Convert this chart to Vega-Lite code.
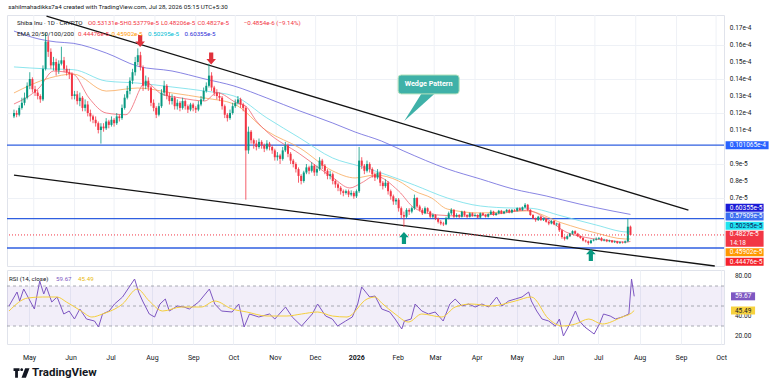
{
"$schema": "https://vega.github.io/schema/vega-lite/v6.json",
"background": "#ffffff",
"padding": {"left": 5, "top": 3, "right": 0, "bottom": 0},
"spacing": -5,
"resolve": {"scale": {"x": "independent", "y": "independent"}},
"config": {
  "font": "Roboto",
  "view": {"stroke": "#e0e3eb", "strokeWidth": 1},
  "axis": {"labelFont": "Roboto", "labelColor": "#131722", "labelFontSize": 6.5, "ticks": false, "domain": false, "gridColor": "#eef1f6", "gridWidth": 1, "title": null},
  "text": {"font": "Roboto"}
},
"datasets": {
"candles": [
{"t":"2025-04-16","o":11.8,"h":12.2,"l":11.7,"c":12.0},
{"t":"2025-04-18","o":12.0,"h":12.15,"l":11.75,"c":11.9},
{"t":"2025-04-20","o":11.9,"h":12.45,"l":11.8,"c":12.3},
{"t":"2025-04-22","o":12.3,"h":12.9,"l":12.2,"c":12.6},
{"t":"2025-04-24","o":12.6,"h":13.2,"l":12.45,"c":12.9},
{"t":"2025-04-26","o":12.9,"h":13.8,"l":12.8,"c":13.6},
{"t":"2025-04-28","o":13.6,"h":14.4,"l":13.4,"c":14.0},
{"t":"2025-04-30","o":14.0,"h":14.1,"l":13.2,"c":13.4},
{"t":"2025-05-02","o":13.4,"h":13.6,"l":13.0,"c":13.2},
{"t":"2025-05-04","o":13.2,"h":13.35,"l":12.8,"c":13.0},
{"t":"2025-05-06","o":13.0,"h":13.1,"l":12.6,"c":12.8},
{"t":"2025-05-08","o":12.8,"h":14.8,"l":12.7,"c":14.6},
{"t":"2025-05-10","o":14.6,"h":16.7,"l":14.5,"c":16.2},
{"t":"2025-05-12","o":16.2,"h":16.5,"l":15.3,"c":15.6},
{"t":"2025-05-14","o":15.6,"h":15.8,"l":14.6,"c":14.8},
{"t":"2025-05-16","o":14.8,"h":15.3,"l":14.5,"c":15.0},
{"t":"2025-05-18","o":15.0,"h":15.2,"l":14.2,"c":14.5},
{"t":"2025-05-20","o":14.5,"h":15.1,"l":14.3,"c":14.9},
{"t":"2025-05-22","o":14.9,"h":15.9,"l":14.8,"c":15.1},
{"t":"2025-05-24","o":15.1,"h":15.3,"l":14.4,"c":14.6},
{"t":"2025-05-26","o":14.6,"h":14.8,"l":14.2,"c":14.4},
{"t":"2025-05-28","o":14.4,"h":14.6,"l":14.0,"c":14.3},
{"t":"2025-05-30","o":14.3,"h":14.4,"l":12.8,"c":13.0},
{"t":"2025-06-01","o":13.0,"h":13.3,"l":12.8,"c":13.1},
{"t":"2025-06-03","o":13.1,"h":13.3,"l":12.5,"c":12.7},
{"t":"2025-06-05","o":12.7,"h":13.2,"l":12.4,"c":12.9},
{"t":"2025-06-07","o":12.9,"h":13.0,"l":12.1,"c":12.3},
{"t":"2025-06-09","o":12.3,"h":12.8,"l":12.1,"c":12.5},
{"t":"2025-06-11","o":12.5,"h":12.7,"l":11.8,"c":12.0},
{"t":"2025-06-13","o":12.0,"h":12.2,"l":11.5,"c":11.8},
{"t":"2025-06-15","o":11.8,"h":11.9,"l":11.4,"c":11.6},
{"t":"2025-06-17","o":11.6,"h":11.8,"l":11.2,"c":11.4},
{"t":"2025-06-19","o":11.4,"h":11.5,"l":10.8,"c":11.0},
{"t":"2025-06-21","o":11.0,"h":11.4,"l":10.2,"c":11.2},
{"t":"2025-06-23","o":11.2,"h":11.4,"l":10.9,"c":11.1},
{"t":"2025-06-25","o":11.1,"h":11.7,"l":11.0,"c":11.5},
{"t":"2025-06-27","o":11.5,"h":11.6,"l":11.1,"c":11.3},
{"t":"2025-06-29","o":11.3,"h":11.8,"l":11.2,"c":11.6},
{"t":"2025-07-01","o":11.6,"h":11.7,"l":11.2,"c":11.4},
{"t":"2025-07-03","o":11.4,"h":12.0,"l":11.3,"c":11.8},
{"t":"2025-07-05","o":11.8,"h":11.9,"l":11.5,"c":11.7},
{"t":"2025-07-07","o":11.7,"h":12.5,"l":11.6,"c":12.3},
{"t":"2025-07-09","o":12.3,"h":13.1,"l":12.2,"c":12.9},
{"t":"2025-07-11","o":12.9,"h":13.6,"l":12.8,"c":13.3},
{"t":"2025-07-13","o":13.3,"h":14.1,"l":13.1,"c":13.9},
{"t":"2025-07-15","o":13.9,"h":14.6,"l":13.7,"c":14.4},
{"t":"2025-07-17","o":14.4,"h":15.3,"l":14.2,"c":15.0},
{"t":"2025-07-19","o":15.0,"h":15.8,"l":14.8,"c":15.4},
{"t":"2025-07-21","o":15.4,"h":15.6,"l":14.5,"c":14.7},
{"t":"2025-07-23","o":14.7,"h":14.8,"l":13.3,"c":13.6},
{"t":"2025-07-25","o":13.6,"h":14.2,"l":13.4,"c":13.9},
{"t":"2025-07-27","o":13.9,"h":14.1,"l":13.3,"c":13.5},
{"t":"2025-07-29","o":13.5,"h":13.6,"l":12.4,"c":12.6},
{"t":"2025-07-31","o":12.6,"h":12.8,"l":12.1,"c":12.3},
{"t":"2025-08-02","o":12.3,"h":12.4,"l":11.7,"c":11.9},
{"t":"2025-08-04","o":11.9,"h":12.6,"l":11.8,"c":12.4},
{"t":"2025-08-06","o":12.4,"h":13.4,"l":12.3,"c":13.2},
{"t":"2025-08-08","o":13.2,"h":13.9,"l":13.0,"c":13.6},
{"t":"2025-08-10","o":13.6,"h":13.7,"l":12.8,"c":13.0},
{"t":"2025-08-12","o":13.0,"h":13.2,"l":12.5,"c":12.7},
{"t":"2025-08-14","o":12.7,"h":13.1,"l":12.5,"c":12.9},
{"t":"2025-08-16","o":12.9,"h":13.0,"l":12.2,"c":12.4},
{"t":"2025-08-18","o":12.4,"h":12.8,"l":12.2,"c":12.6},
{"t":"2025-08-20","o":12.6,"h":12.7,"l":12.1,"c":12.3},
{"t":"2025-08-22","o":12.3,"h":12.9,"l":12.2,"c":12.7},
{"t":"2025-08-24","o":12.7,"h":12.8,"l":12.2,"c":12.4},
{"t":"2025-08-26","o":12.4,"h":12.5,"l":12.0,"c":12.2},
{"t":"2025-08-28","o":12.2,"h":12.6,"l":12.1,"c":12.5},
{"t":"2025-08-30","o":12.5,"h":12.6,"l":12.1,"c":12.3},
{"t":"2025-09-01","o":12.3,"h":12.4,"l":12.0,"c":12.2},
{"t":"2025-09-03","o":12.2,"h":12.7,"l":12.1,"c":12.5},
{"t":"2025-09-05","o":12.5,"h":13.0,"l":12.4,"c":12.8},
{"t":"2025-09-07","o":12.8,"h":13.5,"l":12.7,"c":13.3},
{"t":"2025-09-09","o":13.3,"h":13.8,"l":13.2,"c":13.6},
{"t":"2025-09-11","o":13.6,"h":14.9,"l":13.5,"c":14.2},
{"t":"2025-09-13","o":14.2,"h":14.4,"l":13.3,"c":13.5},
{"t":"2025-09-15","o":13.5,"h":13.6,"l":13.0,"c":13.2},
{"t":"2025-09-17","o":13.2,"h":13.4,"l":12.8,"c":13.0},
{"t":"2025-09-19","o":13.0,"h":13.2,"l":12.7,"c":12.9},
{"t":"2025-09-21","o":12.9,"h":13.0,"l":12.2,"c":12.4},
{"t":"2025-09-23","o":12.4,"h":12.5,"l":11.7,"c":11.9},
{"t":"2025-09-25","o":11.9,"h":12.0,"l":11.5,"c":11.7},
{"t":"2025-09-27","o":11.7,"h":12.2,"l":11.6,"c":12.0},
{"t":"2025-09-29","o":12.0,"h":12.6,"l":11.9,"c":12.4},
{"t":"2025-10-01","o":12.4,"h":12.8,"l":12.3,"c":12.6},
{"t":"2025-10-03","o":12.6,"h":13.0,"l":12.5,"c":12.8},
{"t":"2025-10-05","o":12.8,"h":12.9,"l":12.3,"c":12.5},
{"t":"2025-10-07","o":12.5,"h":12.6,"l":12.1,"c":12.3},
{"t":"2025-10-09","o":12.3,"h":12.4,"l":6.9,"c":9.8},
{"t":"2025-10-11","o":9.8,"h":11.2,"l":9.6,"c":10.9},
{"t":"2025-10-13","o":10.9,"h":11.0,"l":10.2,"c":10.4},
{"t":"2025-10-15","o":10.4,"h":10.5,"l":9.9,"c":10.2},
{"t":"2025-10-17","o":10.2,"h":10.4,"l":9.8,"c":10.0},
{"t":"2025-10-19","o":10.0,"h":10.5,"l":9.9,"c":10.3},
{"t":"2025-10-21","o":10.3,"h":10.4,"l":9.9,"c":10.1},
{"t":"2025-10-23","o":10.1,"h":10.2,"l":9.7,"c":9.9},
{"t":"2025-10-25","o":9.9,"h":10.4,"l":9.8,"c":10.2},
{"t":"2025-10-27","o":10.2,"h":10.3,"l":9.8,"c":10.0},
{"t":"2025-10-29","o":10.0,"h":10.1,"l":9.6,"c":9.8},
{"t":"2025-10-31","o":9.8,"h":9.9,"l":9.2,"c":9.4},
{"t":"2025-11-02","o":9.4,"h":9.7,"l":9.2,"c":9.5},
{"t":"2025-11-04","o":9.5,"h":9.6,"l":9.0,"c":9.3},
{"t":"2025-11-06","o":9.3,"h":10.0,"l":9.2,"c":9.8},
{"t":"2025-11-08","o":9.8,"h":10.3,"l":9.7,"c":10.1},
{"t":"2025-11-10","o":10.1,"h":10.2,"l":9.4,"c":9.6},
{"t":"2025-11-12","o":9.6,"h":9.7,"l":9.0,"c":9.2},
{"t":"2025-11-14","o":9.2,"h":9.3,"l":8.8,"c":9.0},
{"t":"2025-11-16","o":9.0,"h":9.1,"l":8.5,"c":8.7},
{"t":"2025-11-18","o":8.7,"h":8.8,"l":7.9,"c":8.3},
{"t":"2025-11-20","o":8.3,"h":8.4,"l":7.8,"c":8.0},
{"t":"2025-11-22","o":8.0,"h":8.6,"l":7.9,"c":8.5},
{"t":"2025-11-24","o":8.5,"h":9.0,"l":8.4,"c":8.8},
{"t":"2025-11-26","o":8.8,"h":8.9,"l":8.4,"c":8.6},
{"t":"2025-11-28","o":8.6,"h":9.1,"l":8.5,"c":8.9},
{"t":"2025-11-30","o":8.9,"h":9.0,"l":8.3,"c":8.5},
{"t":"2025-12-02","o":8.5,"h":8.9,"l":8.3,"c":8.7},
{"t":"2025-12-04","o":8.7,"h":9.4,"l":8.6,"c":9.2},
{"t":"2025-12-06","o":9.2,"h":9.3,"l":8.7,"c":8.9},
{"t":"2025-12-08","o":8.9,"h":9.0,"l":8.4,"c":8.6},
{"t":"2025-12-10","o":8.6,"h":8.7,"l":8.1,"c":8.3},
{"t":"2025-12-12","o":8.3,"h":8.6,"l":8.1,"c":8.4},
{"t":"2025-12-14","o":8.4,"h":8.5,"l":7.8,"c":8.0},
{"t":"2025-12-16","o":8.0,"h":8.1,"l":7.6,"c":7.8},
{"t":"2025-12-18","o":7.8,"h":7.9,"l":7.4,"c":7.6},
{"t":"2025-12-20","o":7.6,"h":7.7,"l":7.2,"c":7.4},
{"t":"2025-12-22","o":7.4,"h":7.5,"l":7.1,"c":7.3},
{"t":"2025-12-24","o":7.3,"h":7.5,"l":7.2,"c":7.4},
{"t":"2025-12-26","o":7.4,"h":7.5,"l":7.05,"c":7.2},
{"t":"2025-12-28","o":7.2,"h":7.45,"l":7.1,"c":7.3},
{"t":"2025-12-30","o":7.3,"h":7.4,"l":6.95,"c":7.1},
{"t":"2026-01-01","o":7.1,"h":7.5,"l":7.0,"c":7.4},
{"t":"2026-01-03","o":7.4,"h":10.0,"l":7.3,"c":9.2},
{"t":"2026-01-05","o":9.2,"h":9.4,"l":8.7,"c":8.9},
{"t":"2026-01-07","o":8.9,"h":9.0,"l":8.4,"c":8.6},
{"t":"2026-01-09","o":8.6,"h":9.2,"l":8.5,"c":9.0},
{"t":"2026-01-11","o":9.0,"h":9.1,"l":8.5,"c":8.7},
{"t":"2026-01-13","o":8.7,"h":8.8,"l":8.2,"c":8.4},
{"t":"2026-01-15","o":8.4,"h":8.5,"l":8.0,"c":8.2},
{"t":"2026-01-17","o":8.2,"h":8.7,"l":8.1,"c":8.5},
{"t":"2026-01-19","o":8.5,"h":8.6,"l":7.7,"c":7.9},
{"t":"2026-01-21","o":7.9,"h":8.0,"l":7.5,"c":7.7},
{"t":"2026-01-23","o":7.7,"h":8.1,"l":7.6,"c":7.9},
{"t":"2026-01-25","o":7.9,"h":8.0,"l":7.2,"c":7.4},
{"t":"2026-01-27","o":7.4,"h":7.5,"l":6.9,"c":7.1},
{"t":"2026-01-29","o":7.1,"h":7.2,"l":6.6,"c":6.8},
{"t":"2026-01-31","o":6.8,"h":7.0,"l":6.6,"c":6.9},
{"t":"2026-02-02","o":6.9,"h":7.0,"l":6.2,"c":6.4},
{"t":"2026-02-04","o":6.4,"h":6.5,"l":5.8,"c":6.0},
{"t":"2026-02-06","o":6.0,"h":6.2,"l":5.3,"c":5.9},
{"t":"2026-02-08","o":5.9,"h":6.4,"l":5.8,"c":6.3},
{"t":"2026-02-10","o":6.3,"h":6.4,"l":6.0,"c":6.2},
{"t":"2026-02-12","o":6.2,"h":6.5,"l":6.1,"c":6.4},
{"t":"2026-02-14","o":6.4,"h":7.2,"l":6.3,"c":7.0},
{"t":"2026-02-16","o":7.0,"h":7.05,"l":6.4,"c":6.5},
{"t":"2026-02-18","o":6.5,"h":6.6,"l":6.2,"c":6.3},
{"t":"2026-02-20","o":6.3,"h":6.4,"l":6.0,"c":6.1},
{"t":"2026-02-22","o":6.1,"h":6.5,"l":6.05,"c":6.4},
{"t":"2026-02-24","o":6.4,"h":6.45,"l":6.1,"c":6.2},
{"t":"2026-02-26","o":6.2,"h":6.25,"l":5.8,"c":5.9},
{"t":"2026-02-28","o":5.9,"h":6.1,"l":5.8,"c":6.0},
{"t":"2026-03-02","o":6.0,"h":6.05,"l":5.7,"c":5.8},
{"t":"2026-03-04","o":5.8,"h":5.85,"l":5.5,"c":5.6},
{"t":"2026-03-06","o":5.6,"h":5.7,"l":5.4,"c":5.5},
{"t":"2026-03-08","o":5.5,"h":5.6,"l":5.35,"c":5.45},
{"t":"2026-03-10","o":5.45,"h":5.9,"l":5.4,"c":5.8},
{"t":"2026-03-12","o":5.8,"h":6.2,"l":5.75,"c":6.1},
{"t":"2026-03-14","o":6.1,"h":6.4,"l":6.0,"c":6.3},
{"t":"2026-03-16","o":6.3,"h":6.35,"l":5.8,"c":5.9},
{"t":"2026-03-18","o":5.9,"h":6.1,"l":5.85,"c":6.0},
{"t":"2026-03-20","o":6.0,"h":6.05,"l":5.8,"c":5.9},
{"t":"2026-03-22","o":5.9,"h":6.25,"l":5.85,"c":6.2},
{"t":"2026-03-24","o":6.2,"h":6.25,"l":5.9,"c":6.0},
{"t":"2026-03-26","o":6.0,"h":6.05,"l":5.8,"c":5.9},
{"t":"2026-03-28","o":5.9,"h":6.15,"l":5.85,"c":6.1},
{"t":"2026-03-30","o":6.1,"h":6.15,"l":5.9,"c":5.95},
{"t":"2026-04-01","o":5.95,"h":6.1,"l":5.9,"c":6.0},
{"t":"2026-04-03","o":6.0,"h":6.05,"l":5.8,"c":5.85},
{"t":"2026-04-05","o":5.85,"h":6.15,"l":5.8,"c":6.1},
{"t":"2026-04-07","o":6.1,"h":6.15,"l":5.95,"c":6.0},
{"t":"2026-04-09","o":6.0,"h":6.05,"l":5.85,"c":5.9},
{"t":"2026-04-11","o":5.9,"h":6.1,"l":5.85,"c":6.05},
{"t":"2026-04-13","o":6.05,"h":6.3,"l":6.0,"c":6.2},
{"t":"2026-04-15","o":6.2,"h":6.25,"l":5.95,"c":6.0},
{"t":"2026-04-17","o":6.0,"h":6.15,"l":5.95,"c":6.1},
{"t":"2026-04-19","o":6.1,"h":6.3,"l":6.05,"c":6.25},
{"t":"2026-04-21","o":6.25,"h":6.3,"l":6.05,"c":6.1},
{"t":"2026-04-23","o":6.1,"h":6.25,"l":6.05,"c":6.2},
{"t":"2026-04-25","o":6.2,"h":6.35,"l":6.15,"c":6.3},
{"t":"2026-04-27","o":6.3,"h":6.35,"l":6.1,"c":6.15},
{"t":"2026-04-29","o":6.15,"h":6.35,"l":6.1,"c":6.3},
{"t":"2026-05-01","o":6.3,"h":6.35,"l":6.2,"c":6.25},
{"t":"2026-05-03","o":6.25,"h":6.45,"l":6.2,"c":6.4},
{"t":"2026-05-05","o":6.4,"h":6.45,"l":6.25,"c":6.3},
{"t":"2026-05-07","o":6.3,"h":6.5,"l":6.25,"c":6.45},
{"t":"2026-05-09","o":6.45,"h":6.7,"l":6.4,"c":6.6},
{"t":"2026-05-11","o":6.6,"h":6.65,"l":6.25,"c":6.3},
{"t":"2026-05-13","o":6.3,"h":6.35,"l":5.95,"c":6.0},
{"t":"2026-05-15","o":6.0,"h":6.05,"l":5.75,"c":5.8},
{"t":"2026-05-17","o":5.8,"h":5.85,"l":5.6,"c":5.7},
{"t":"2026-05-19","o":5.7,"h":5.95,"l":5.65,"c":5.9},
{"t":"2026-05-21","o":5.9,"h":5.95,"l":5.65,"c":5.7},
{"t":"2026-05-23","o":5.7,"h":5.85,"l":5.65,"c":5.8},
{"t":"2026-05-25","o":5.8,"h":5.85,"l":5.55,"c":5.6},
{"t":"2026-05-27","o":5.6,"h":5.65,"l":5.4,"c":5.5},
{"t":"2026-05-29","o":5.5,"h":5.7,"l":5.45,"c":5.65},
{"t":"2026-05-31","o":5.65,"h":5.7,"l":5.4,"c":5.45},
{"t":"2026-06-02","o":5.45,"h":5.55,"l":5.35,"c":5.5},
{"t":"2026-06-04","o":5.5,"h":5.55,"l":5.0,"c":5.1},
{"t":"2026-06-06","o":5.1,"h":5.15,"l":4.6,"c":4.7},
{"t":"2026-06-08","o":4.7,"h":4.75,"l":4.5,"c":4.6},
{"t":"2026-06-10","o":4.6,"h":4.8,"l":4.55,"c":4.75},
{"t":"2026-06-12","o":4.75,"h":4.95,"l":4.7,"c":4.9},
{"t":"2026-06-14","o":4.9,"h":5.1,"l":4.85,"c":5.05},
{"t":"2026-06-16","o":5.05,"h":5.1,"l":4.85,"c":4.9},
{"t":"2026-06-18","o":4.9,"h":4.95,"l":4.7,"c":4.75},
{"t":"2026-06-20","o":4.75,"h":4.8,"l":4.6,"c":4.65},
{"t":"2026-06-22","o":4.65,"h":4.7,"l":4.45,"c":4.5},
{"t":"2026-06-24","o":4.5,"h":4.55,"l":4.38,"c":4.45},
{"t":"2026-06-26","o":4.45,"h":4.5,"l":4.25,"c":4.35},
{"t":"2026-06-28","o":4.35,"h":4.55,"l":4.3,"c":4.5},
{"t":"2026-06-30","o":4.5,"h":4.6,"l":4.45,"c":4.55},
{"t":"2026-07-02","o":4.55,"h":4.68,"l":4.5,"c":4.6},
{"t":"2026-07-04","o":4.6,"h":4.7,"l":4.55,"c":4.65},
{"t":"2026-07-06","o":4.65,"h":4.7,"l":4.45,"c":4.5},
{"t":"2026-07-08","o":4.5,"h":4.6,"l":4.45,"c":4.55},
{"t":"2026-07-10","o":4.55,"h":4.58,"l":4.4,"c":4.45},
{"t":"2026-07-12","o":4.45,"h":4.55,"l":4.4,"c":4.5},
{"t":"2026-07-14","o":4.5,"h":4.53,"l":4.35,"c":4.4},
{"t":"2026-07-16","o":4.4,"h":4.5,"l":4.35,"c":4.45},
{"t":"2026-07-18","o":4.45,"h":4.48,"l":4.3,"c":4.35},
{"t":"2026-07-20","o":4.35,"h":4.45,"l":4.3,"c":4.4},
{"t":"2026-07-22","o":4.4,"h":4.45,"l":4.32,"c":4.38},
{"t":"2026-07-24","o":4.38,"h":4.5,"l":4.33,"c":4.45},
{"t":"2026-07-26","o":4.45,"h":5.79,"l":4.4,"c":5.3124},
{"t":"2026-07-28","o":5.3131,"h":5.3779,"l":4.8206,"c":4.827}
],
"ema": [
{"t":"2025-04-16","v":16.82,"s":"EMA200"},{"t":"2025-05-05","v":16.35,"s":"EMA200"},{"t":"2025-05-18","v":16.18,"s":"EMA200"},{"t":"2025-05-31","v":16.1,"s":"EMA200"},{"t":"2025-06-25","v":15.53,"s":"EMA200"},{"t":"2025-07-19","v":14.75,"s":"EMA200"},{"t":"2025-08-14","v":14.47,"s":"EMA200"},{"t":"2025-09-08","v":14.0,"s":"EMA200"},{"t":"2025-09-30","v":13.59,"s":"EMA200"},{"t":"2025-10-25","v":12.88,"s":"EMA200"},{"t":"2025-11-19","v":12.12,"s":"EMA200"},{"t":"2025-12-14","v":11.41,"s":"EMA200"},{"t":"2025-12-31","v":10.88,"s":"EMA200"},{"t":"2026-01-20","v":10.35,"s":"EMA200"},{"t":"2026-02-06","v":9.76,"s":"EMA200"},{"t":"2026-03-11","v":8.71,"s":"EMA200"},{"t":"2026-04-05","v":8.12,"s":"EMA200"},{"t":"2026-04-30","v":7.53,"s":"EMA200"},{"t":"2026-05-25","v":7.12,"s":"EMA200"},{"t":"2026-06-19","v":6.65,"s":"EMA200"},{"t":"2026-07-14","v":6.24,"s":"EMA200"},{"t":"2026-07-28","v":6.0355,"s":"EMA200"},
{"t":"2025-04-16","v":14.71,"s":"EMA100"},{"t":"2025-05-10","v":14.6,"s":"EMA100"},{"t":"2025-05-31","v":14.55,"s":"EMA100"},{"t":"2025-06-25","v":13.88,"s":"EMA100"},{"t":"2025-07-19","v":13.76,"s":"EMA100"},{"t":"2025-08-14","v":13.53,"s":"EMA100"},{"t":"2025-09-08","v":13.29,"s":"EMA100"},{"t":"2025-09-30","v":13.0,"s":"EMA100"},{"t":"2025-10-25","v":11.71,"s":"EMA100"},{"t":"2025-11-19","v":10.53,"s":"EMA100"},{"t":"2025-12-14","v":9.35,"s":"EMA100"},{"t":"2026-01-03","v":8.88,"s":"EMA100"},{"t":"2026-01-20","v":8.47,"s":"EMA100"},{"t":"2026-02-14","v":7.76,"s":"EMA100"},{"t":"2026-03-11","v":7.0,"s":"EMA100"},{"t":"2026-04-05","v":6.53,"s":"EMA100"},{"t":"2026-04-30","v":6.41,"s":"EMA100"},{"t":"2026-05-12","v":6.4,"s":"EMA100"},{"t":"2026-06-06","v":5.94,"s":"EMA100"},{"t":"2026-07-02","v":5.41,"s":"EMA100"},{"t":"2026-07-26","v":5.0,"s":"EMA100"},{"t":"2026-07-28","v":5.0295,"s":"EMA100"},
{"t":"2025-04-16","v":13.18,"s":"EMA50"},{"t":"2025-05-13","v":14.06,"s":"EMA50"},{"t":"2025-05-31","v":14.29,"s":"EMA50"},{"t":"2025-06-25","v":13.29,"s":"EMA50"},{"t":"2025-07-19","v":13.47,"s":"EMA50"},{"t":"2025-08-14","v":13.18,"s":"EMA50"},{"t":"2025-09-08","v":12.88,"s":"EMA50"},{"t":"2025-09-30","v":12.53,"s":"EMA50"},{"t":"2025-10-25","v":10.94,"s":"EMA50"},{"t":"2025-11-19","v":9.94,"s":"EMA50"},{"t":"2025-12-14","v":8.59,"s":"EMA50"},{"t":"2025-12-31","v":8.18,"s":"EMA50"},{"t":"2026-01-15","v":8.35,"s":"EMA50"},{"t":"2026-02-02","v":8.0,"s":"EMA50"},{"t":"2026-02-14","v":7.41,"s":"EMA50"},{"t":"2026-02-27","v":7.0,"s":"EMA50"},{"t":"2026-03-11","v":6.35,"s":"EMA50"},{"t":"2026-04-05","v":6.12,"s":"EMA50"},{"t":"2026-05-10","v":6.24,"s":"EMA50"},{"t":"2026-06-06","v":5.53,"s":"EMA50"},{"t":"2026-07-02","v":4.94,"s":"EMA50"},{"t":"2026-07-24","v":4.59,"s":"EMA50"},{"t":"2026-07-28","v":4.59,"s":"EMA50"},
{"t":"2025-04-16","v":12.53,"s":"EMA20"},{"t":"2025-05-05","v":13.47,"s":"EMA20"},{"t":"2025-05-16","v":14.47,"s":"EMA20"},{"t":"2025-05-31","v":14.29,"s":"EMA20"},{"t":"2025-06-12","v":12.88,"s":"EMA20"},{"t":"2025-06-25","v":12.0,"s":"EMA20"},{"t":"2025-07-10","v":11.9,"s":"EMA20"},{"t":"2025-07-25","v":13.8,"s":"EMA20"},{"t":"2025-08-06","v":13.12,"s":"EMA20"},{"t":"2025-08-21","v":12.88,"s":"EMA20"},{"t":"2025-09-08","v":12.71,"s":"EMA20"},{"t":"2025-09-17","v":13.2,"s":"EMA20"},{"t":"2025-10-02","v":12.6,"s":"EMA20"},{"t":"2025-10-09","v":12.4,"s":"EMA20"},{"t":"2025-10-17","v":11.53,"s":"EMA20"},{"t":"2025-10-25","v":10.9,"s":"EMA20"},{"t":"2025-11-19","v":9.59,"s":"EMA20"},{"t":"2025-12-14","v":8.2,"s":"EMA20"},{"t":"2025-12-27","v":7.59,"s":"EMA20"},{"t":"2026-01-05","v":7.9,"s":"EMA20"},{"t":"2026-01-15","v":8.3,"s":"EMA20"},{"t":"2026-02-02","v":7.41,"s":"EMA20"},{"t":"2026-02-14","v":6.41,"s":"EMA20"},{"t":"2026-03-04","v":6.0,"s":"EMA20"},{"t":"2026-03-23","v":5.94,"s":"EMA20"},{"t":"2026-04-18","v":6.06,"s":"EMA20"},{"t":"2026-05-10","v":6.28,"s":"EMA20"},{"t":"2026-05-25","v":5.8,"s":"EMA20"},{"t":"2026-06-09","v":5.0,"s":"EMA20"},{"t":"2026-06-24","v":4.68,"s":"EMA20"},{"t":"2026-07-14","v":4.48,"s":"EMA20"},{"t":"2026-07-24","v":4.4,"s":"EMA20"},{"t":"2026-07-28","v":4.4476,"s":"EMA20"}
],
"rsi": [
{"t":"2025-04-16","r":50},{"t":"2025-04-22","r":64},{"t":"2025-04-24","r":55},{"t":"2025-04-27","r":67},{"t":"2025-05-01","r":57},{"t":"2025-05-05","r":47},{"t":"2025-05-09","r":75},{"t":"2025-05-12","r":62},{"t":"2025-05-14","r":69},{"t":"2025-05-18","r":54},{"t":"2025-05-22","r":59},{"t":"2025-05-27","r":42},{"t":"2025-05-31","r":45},{"t":"2025-06-04","r":37},{"t":"2025-06-08","r":47},{"t":"2025-06-13","r":37},{"t":"2025-06-19","r":35},{"t":"2025-06-22","r":29},{"t":"2025-06-25","r":42},{"t":"2025-06-30","r":45},{"t":"2025-07-04","r":52},{"t":"2025-07-10","r":59},{"t":"2025-07-15","r":69},{"t":"2025-07-19","r":77},{"t":"2025-07-22","r":64},{"t":"2025-07-25","r":55},{"t":"2025-07-30","r":42},{"t":"2025-08-03","r":39},{"t":"2025-08-07","r":52},{"t":"2025-08-11","r":57},{"t":"2025-08-14","r":45},{"t":"2025-08-20","r":50},{"t":"2025-08-25","r":49},{"t":"2025-08-29","r":47},{"t":"2025-09-05","r":54},{"t":"2025-09-13","r":67},{"t":"2025-09-17","r":52},{"t":"2025-09-22","r":45},{"t":"2025-09-30","r":44},{"t":"2025-10-05","r":52},{"t":"2025-10-09","r":29},{"t":"2025-10-13","r":42},{"t":"2025-10-20","r":39},{"t":"2025-10-28","r":42},{"t":"2025-11-01","r":37},{"t":"2025-11-09","r":49},{"t":"2025-11-14","r":39},{"t":"2025-11-21","r":30},{"t":"2025-11-29","r":42},{"t":"2025-12-03","r":52},{"t":"2025-12-09","r":40},{"t":"2025-12-14","r":37},{"t":"2025-12-18","r":30},{"t":"2025-12-24","r":35},{"t":"2025-12-29","r":39},{"t":"2026-01-02","r":52},{"t":"2026-01-05","r":69},{"t":"2026-01-11","r":59},{"t":"2026-01-15","r":60},{"t":"2026-01-20","r":47},{"t":"2026-01-26","r":44},{"t":"2026-01-30","r":37},{"t":"2026-02-04","r":27},{"t":"2026-02-06","r":35},{"t":"2026-02-11","r":37},{"t":"2026-02-14","r":52},{"t":"2026-02-19","r":45},{"t":"2026-02-24","r":42},{"t":"2026-03-01","r":44},{"t":"2026-03-07","r":35},{"t":"2026-03-12","r":52},{"t":"2026-03-16","r":57},{"t":"2026-03-21","r":50},{"t":"2026-03-26","r":52},{"t":"2026-03-31","r":49},{"t":"2026-04-05","r":52},{"t":"2026-04-10","r":49},{"t":"2026-04-16","r":59},{"t":"2026-04-20","r":50},{"t":"2026-04-25","r":55},{"t":"2026-04-30","r":57},{"t":"2026-05-05","r":59},{"t":"2026-05-10","r":64},{"t":"2026-05-12","r":55},{"t":"2026-05-16","r":45},{"t":"2026-05-20","r":37},{"t":"2026-05-25","r":35},{"t":"2026-05-30","r":30},{"t":"2026-06-02","r":37},{"t":"2026-06-05","r":20},{"t":"2026-06-09","r":30},{"t":"2026-06-14","r":45},{"t":"2026-06-17","r":35},{"t":"2026-06-21","r":29},{"t":"2026-06-28","r":22},{"t":"2026-07-02","r":32},{"t":"2026-07-05","r":42},{"t":"2026-07-10","r":40},{"t":"2026-07-14","r":37},{"t":"2026-07-19","r":39},{"t":"2026-07-24","r":42},{"t":"2026-07-26","r":77},{"t":"2026-07-28","r":59.67}
],
"rsima": [
{"t":"2025-04-16","r":45},{"t":"2025-04-30","r":58},{"t":"2025-05-11","r":59},{"t":"2025-05-22","r":59},{"t":"2025-05-29","r":54},{"t":"2025-06-09","r":45},{"t":"2025-06-17","r":39},{"t":"2025-06-25","r":42},{"t":"2025-07-10","r":52},{"t":"2025-07-21","r":67},{"t":"2025-07-30","r":55},{"t":"2025-08-09","r":45},{"t":"2025-08-23","r":49},{"t":"2025-09-07","r":49},{"t":"2025-09-17","r":55},{"t":"2025-09-30","r":47},{"t":"2025-10-11","r":44},{"t":"2025-10-26","r":40},{"t":"2025-11-10","r":40},{"t":"2025-11-21","r":42},{"t":"2025-12-03","r":44},{"t":"2025-12-14","r":40},{"t":"2025-12-25","r":39},{"t":"2026-01-09","r":57},{"t":"2026-01-15","r":59},{"t":"2026-01-20","r":53},{"t":"2026-01-30","r":42},{"t":"2026-02-09","r":34},{"t":"2026-02-19","r":42},{"t":"2026-03-06","r":39},{"t":"2026-03-16","r":49},{"t":"2026-03-28","r":52},{"t":"2026-04-12","r":50},{"t":"2026-04-30","r":55},{"t":"2026-05-12","r":59},{"t":"2026-05-25","r":37},{"t":"2026-06-04","r":30},{"t":"2026-06-14","r":32},{"t":"2026-06-24","r":37},{"t":"2026-07-04","r":32},{"t":"2026-07-19","r":39},{"t":"2026-07-26","r":43},{"t":"2026-07-28","r":45.49}
],
"months": [
{"m":"2025-05-01"},{"m":"2025-06-01"},{"m":"2025-07-01"},{"m":"2025-08-01"},{"m":"2025-09-01"},{"m":"2025-10-01"},{"m":"2025-11-01"},{"m":"2025-12-01"},{"m":"2026-01-01"},{"m":"2026-02-01"},{"m":"2026-03-01"},{"m":"2026-04-01"},{"m":"2026-05-01"},{"m":"2026-06-01"},{"m":"2026-07-01"},{"m":"2026-08-01"},{"m":"2026-09-01"},{"m":"2026-10-01"}
],
"yticks": [
{"v":17,"lab":"0.17e-4"},{"v":16,"lab":"0.16e-4"},{"v":15,"lab":"0.15e-4"},{"v":14,"lab":"0.14e-4"},{"v":13,"lab":"0.13e-4"},{"v":12,"lab":"0.12e-4"},{"v":11,"lab":"0.11e-4"},{"v":9,"lab":"0.9e-5"},{"v":8,"lab":"0.8e-5"},{"v":7,"lab":"0.7e-5"}
],
"pbox": [
{"v":10.1065,"k":"line"},{"v":6.429,"k":"e200"},{"v":5.912,"k":"line2"},{"v":5.371,"k":"e100"},{"v":4.609,"k":"last"},{"v":3.806,"k":"e50"},{"v":3.247,"k":"e20"}
],
"ptxt": [
{"v":10.1065,"txt":"0.101065e-4","k":"line"},{"v":6.429,"txt":"0.60355e-5","k":"e200"},{"v":5.912,"txt":"0.57909e-5","k":"line2"},{"v":5.371,"txt":"0.50295e-5","k":"e100"},{"v":4.865,"txt":"0.4827e-5","k":"last"},{"v":4.353,"txt":"14:18","k":"last"},{"v":3.806,"txt":"0.45902e-5","k":"e50"},{"v":3.247,"txt":"0.44476e-5","k":"e20"}
]
},
"vconcat": [
{
"width": 717,
"height": 251,
"title": {"text": "sahilmahadikks7a4 created with TradingView.com, Jul 28, 2026 05:15 UTC+5:30", "anchor": "start", "fontSize": 6.2, "fontWeight": "normal", "color": "#131722", "offset": 3, "dx": 2, "font": "Roboto"},
"layer": [
{"data": {"name": "months"},
 "mark": {"type": "rule", "color": "#eef1f6", "strokeWidth": 1},
 "encoding": {"x": {"field": "m", "type": "temporal", "scale": {"domain": [{"year": 2025, "month": 4, "date": 14, "hours": 12}, {"year": 2026, "month": 10, "date": 3, "hours": 5}]}, "axis": null}}},
{"data": {"values": [{"v": 10.1065}, {"v": 5.7909}, {"v": 4.06}]},
 "mark": {"type": "rule", "color": "#2f5fe0", "strokeWidth": 1.3},
 "encoding": {"y": {"field": "v", "type": "quantitative", "scale": {"domain": [3.0, 17.765], "nice": false, "zero": false}, "axis": {"orient": "right", "values": [7, 8, 9, 11, 12, 13, 14, 15, 16, 17], "labels": false, "grid": true, "title": null}}}},
{"data": {"name": "ema"},
 "mark": {"type": "line", "strokeWidth": 1, "interpolate": "monotone", "opacity": 0.8},
 "encoding": {"x": {"field": "t", "type": "temporal"}, "y": {"field": "v", "type": "quantitative"},
   "color": {"field": "s", "type": "nominal", "scale": {"domain": ["EMA20", "EMA50", "EMA100", "EMA200"], "range": ["#f06673", "#f9a95a", "#6fdfe8", "#6a66dc"]}, "legend": null}}},
{"data": {"values": [{"t": "2025-05-10T17:00:00", "v": 17.7, "g": "upper"}, {"t": "2026-09-10T00:00:00", "v": 6.29, "g": "upper"}, {"t": "2025-04-16T00:00:00", "v": 8.35, "g": "lower"}, {"t": "2026-09-30T00:00:00", "v": 3.0, "g": "lower"}]},
 "mark": {"type": "line", "color": "#131313", "strokeWidth": 1.3},
 "encoding": {"x": {"field": "t", "type": "temporal"}, "y": {"field": "v", "type": "quantitative"}, "detail": {"field": "g"}}},
{"data": {"name": "candles"},
 "mark": {"type": "rule", "strokeWidth": 0.8},
 "encoding": {
   "x": {"field": "t", "type": "temporal"},
   "y": {"field": "l", "type": "quantitative"},
   "y2": {"field": "h"},
   "color": {"condition": {"test": "datum.c >= datum.o", "value": "#089981"}, "value": "#f23645"}}},
{"data": {"name": "candles"},
 "mark": {"type": "bar", "width": 2},
 "encoding": {"x": {"field": "t", "type": "temporal"}, "y": {"field": "o", "type": "quantitative"}, "y2": {"field": "c"},
   "color": {"condition": {"test": "datum.c >= datum.o", "value": "#089981"}, "value": "#f23645"}}},
{"data": {"values": [{"v": 4.827}]},
 "mark": {"type": "rule", "color": "#f23645", "strokeDash": [1, 2], "strokeWidth": 1},
 "encoding": {"y": {"field": "v", "type": "quantitative"}}},
{"data": {"values": [{"t": "2025-07-20T19:00:00", "v": 16.24, "dir": "down"}, {"t": "2025-09-12T17:00:00", "v": 15.21, "dir": "down"}, {"t": "2026-02-06T01:00:00", "v": 4.65, "dir": "up"}, {"t": "2026-06-27T22:00:00", "v": 3.65, "dir": "up"}]},
 "mark": {"type": "point", "filled": true, "opacity": 1, "size": 144, "strokeWidth": 0},
 "encoding": {"x": {"field": "t", "type": "temporal"}, "y": {"field": "v", "type": "quantitative"},
   "shape": {"condition": {"test": "datum.dir == 'up'", "value": "M -0.35 1 L 0.35 1 L 0.35 -0.1 L 0.8 -0.1 L 0 -1 L -0.8 -0.1 L -0.35 -0.1 Z"}, "value": "M -0.35 -1 L 0.35 -1 L 0.35 0.1 L 0.8 0.1 L 0 1 L -0.8 0.1 L -0.35 0.1 Z"},
   "fill": {"condition": {"test": "datum.dir == 'up'", "value": "#089981"}, "value": "#e0313b"}}},
{"data": {"values": [{}]},
 "mark": {"type": "point", "filled": true, "opacity": 1, "size": 900, "color": "#3fb1a8", "strokeWidth": 0, "shape": "M 0.13 -0.9 L 1 -0.9 L -1 0.9 Z"},
 "encoding": {"x": {"datum": {"year": 2026, "month": 2, "date": 17, "hours": 16}, "type": "temporal"}, "y": {"datum": 12.32}}},
{"data": {"values": [{}]},
 "mark": {"type": "point", "filled": true, "opacity": 1, "size": 3721, "fill": "#3fb1a8", "stroke": "#b5e3bd", "strokeWidth": 1, "shape": "M -0.9 -0.31 L 0.9 -0.31 Q 1 -0.31 1 -0.21 L 1 0.21 Q 1 0.31 0.9 0.31 L -0.9 0.31 Q -1 0.31 -1 0.21 L -1 -0.21 Q -1 -0.31 -0.9 -0.31 Z"},
 "encoding": {"x": {"datum": {"year": 2026, "month": 2, "date": 24, "hours": 19}, "type": "temporal"}, "y": {"datum": 13.68}}},
{"data": {"values": [{}]},
 "mark": {"type": "text", "text": "Wedge Pattern", "color": "#ffffff", "fontSize": 7.2, "fontWeight": "bold", "align": "center", "baseline": "middle"},
 "encoding": {"x": {"datum": {"year": 2026, "month": 2, "date": 24, "hours": 19}, "type": "temporal"}, "y": {"datum": 13.68}}},
{"data": {"values": [{}]},
 "mark": {"type": "text", "text": "Shiba Inu · 1D · CRYPTO", "color": "#131722", "fontSize": 6.2, "align": "left", "baseline": "middle"},
 "encoding": {"x": {"datum": {"year": 2025, "month": 4, "date": 18, "hours": 7}, "type": "temporal"}, "y": {"datum": 17.29}}},
{"data": {"values": [{}]},
 "mark": {"type": "text", "text": "O0.53131e-5", "color": "#f23645", "fontSize": 6.2, "align": "left", "baseline": "middle"},
 "encoding": {"x": {"datum": {"year": 2025, "month": 6, "date": 11, "hours": 4}, "type": "temporal"}, "y": {"datum": 17.29}}},
{"data": {"values": [{}]},
 "mark": {"type": "text", "text": "H0.53779e-5", "color": "#f23645", "fontSize": 6.2, "align": "left", "baseline": "middle"},
 "encoding": {"x": {"datum": {"year": 2025, "month": 7, "date": 8, "hours": 3}, "type": "temporal"}, "y": {"datum": 17.29}}},
{"data": {"values": [{}]},
 "mark": {"type": "text", "text": "L0.48206e-5", "color": "#f23645", "fontSize": 6.2, "align": "left", "baseline": "middle"},
 "encoding": {"x": {"datum": {"year": 2025, "month": 8, "date": 5, "hours": 13}, "type": "temporal"}, "y": {"datum": 17.29}}},
{"data": {"values": [{}]},
 "mark": {"type": "text", "text": "C0.4827e-5", "color": "#f23645", "fontSize": 6.2, "align": "left", "baseline": "middle"},
 "encoding": {"x": {"datum": {"year": 2025, "month": 9, "date": 2, "hours": 6}, "type": "temporal"}, "y": {"datum": 17.29}}},
{"data": {"values": [{}]},
 "mark": {"type": "text", "text": "−0.4854e-6 (−9.14%)", "color": "#f23645", "fontSize": 6.2, "align": "left", "baseline": "middle"},
 "encoding": {"x": {"datum": {"year": 2025, "month": 10, "date": 7, "hours": 10}, "type": "temporal"}, "y": {"datum": 17.29}}},
{"data": {"values": [{}]},
 "mark": {"type": "text", "text": "EMA 20/50/100/200", "color": "#131722", "fontSize": 6.2, "align": "left", "baseline": "middle"},
 "encoding": {"x": {"datum": {"year": 2025, "month": 4, "date": 18, "hours": 7}, "type": "temporal"}, "y": {"datum": 16.65}}},
{"data": {"values": [{}]},
 "mark": {"type": "text", "text": "0.44476e-5", "color": "#f23645", "fontSize": 6.2, "align": "left", "baseline": "middle"},
 "encoding": {"x": {"datum": {"year": 2025, "month": 6, "date": 3, "hours": 16}, "type": "temporal"}, "y": {"datum": 16.65}}},
{"data": {"values": [{}]},
 "mark": {"type": "text", "text": "0.45902e-5", "color": "#ff9800", "fontSize": 6.2, "align": "left", "baseline": "middle"},
 "encoding": {"x": {"datum": {"year": 2025, "month": 6, "date": 29, "hours": 3}, "type": "temporal"}, "y": {"datum": 16.65}}},
{"data": {"values": [{}]},
 "mark": {"type": "text", "text": "0.50295e-5", "color": "#00bcd4", "fontSize": 6.2, "align": "left", "baseline": "middle"},
 "encoding": {"x": {"datum": {"year": 2025, "month": 7, "date": 26, "hours": 20}, "type": "temporal"}, "y": {"datum": 16.65}}},
{"data": {"values": [{}]},
 "mark": {"type": "text", "text": "0.60355e-5", "color": "#2d2dd6", "fontSize": 6.2, "align": "left", "baseline": "middle"},
 "encoding": {"x": {"datum": {"year": 2025, "month": 8, "date": 23, "hours": 12}, "type": "temporal"}, "y": {"datum": 16.65}}},
{"data": {"name": "yticks"},
 "mark": {"type": "text", "fontSize": 6.5, "align": "left", "baseline": "middle", "color": "#131722"},
 "encoding": {"x": {"datum": {"year": 2026, "month": 10, "date": 11, "hours": 10}, "type": "temporal"}, "y": {"field": "v", "type": "quantitative"}, "text": {"field": "lab"}}},
{"data": {"name": "pbox"},
 "mark": {"type": "point", "filled": true, "opacity": 1, "size": 1849, "strokeWidth": 0},
 "encoding": {"x": {"datum": {"year": 2026, "month": 10, "date": 24, "hours": 13}, "type": "temporal"}, "y": {"field": "v", "type": "quantitative"},
   "fill": {"field": "k", "type": "nominal", "scale": {"domain": ["line", "e200", "line2", "e100", "last", "e50", "e20"], "range": ["#2962ff", "#1a1ad6", "#3a6df0", "#21e3f0", "#f23645", "#ff9800", "#f5222d"]}, "legend": null},
   "shape": {"condition": [{"test": "datum.k == 'line'", "value": "M -1 -0.186 L 1 -0.186 L 1 0.186 L -1 0.186 Z"}, {"test": "datum.k == 'last'", "value": "M -1 -0.372 L 0.767 -0.372 L 0.767 0.372 L -1 0.372 Z"}], "value": "M -1 -0.186 L 0.767 -0.186 L 0.767 0.186 L -1 0.186 Z"}}},
{"data": {"name": "ptxt"},
 "mark": {"type": "text", "fontSize": 6.5, "align": "left", "baseline": "middle"},
 "encoding": {"x": {"datum": {"year": 2026, "month": 10, "date": 11, "hours": 10}, "type": "temporal"}, "y": {"field": "v", "type": "quantitative"}, "text": {"field": "txt"},
   "color": {"condition": {"test": "datum.k == 'e100'", "value": "#0b1a5c"}, "value": "#ffffff"}}}
]
},
{
"width": 717,
"height": 74,
"layer": [
{"data": {"values": [{}]},
 "mark": {"type": "rect", "color": "#7e57c2", "opacity": 0.1},
 "encoding": {"y": {"datum": 30, "scale": {"domain": [12, 86], "nice": false, "zero": false}, "axis": null}, "y2": {"datum": 70}}},
{"data": {"values": [{"r": 70}, {"r": 50}, {"r": 30}]},
 "mark": {"type": "rule", "color": "#9598a1", "strokeDash": [3, 3], "strokeWidth": 0.8},
 "encoding": {"y": {"field": "r", "type": "quantitative"}}},
{"data": {"name": "rsi"},
 "mark": {"type": "line", "color": "#7e57c2", "strokeWidth": 1},
 "encoding": {
   "x": {"field": "t", "type": "temporal", "scale": {"domain": [{"year": 2025, "month": 4, "date": 14, "hours": 12}, {"year": 2026, "month": 10, "date": 3, "hours": 5}]},
     "axis": {"grid": true, "tickCount": {"interval": "month", "step": 1}, "labelExpr": "month(datum.value) == 0 ? '2026' : timeFormat(datum.value, '%b')", "labelFontWeight": {"condition": {"test": "month(datum.value) == 0", "value": "bold"}, "value": "normal"}, "labelFontSize": 7, "labelPadding": 9, "labelFlush": false, "labelOverlap": false, "labelBound": false, "title": null}},
   "y": {"field": "r", "type": "quantitative"}}},
{"data": {"name": "rsima"},
 "mark": {"type": "line", "color": "#f5cf3c", "strokeWidth": 1, "interpolate": "monotone"},
 "encoding": {"x": {"field": "t", "type": "temporal"}, "y": {"field": "r", "type": "quantitative"}}},
{"data": {"values": [{"r": 80, "lab": "80.00"}, {"r": 60, "lab": "60.00"}, {"r": 40, "lab": "40.00"}, {"r": 20, "lab": "20.00"}]},
 "mark": {"type": "text", "fontSize": 6.5, "align": "left", "baseline": "middle", "color": "#131722"},
 "encoding": {"x": {"datum": {"year": 2026, "month": 10, "date": 11, "hours": 10}, "type": "temporal"}, "y": {"field": "r", "type": "quantitative"}, "text": {"field": "lab"}}},
{"data": {"values": [{"r": 59.67, "txt": "59.67", "k": "rsi"}, {"r": 45.49, "txt": "45.49", "k": "ma"}]},
 "mark": {"type": "point", "filled": true, "opacity": 1, "size": 1849, "strokeWidth": 0, "shape": "M -1 -0.186 L 0.12 -0.186 L 0.12 0.186 L -1 0.186 Z"},
 "encoding": {"x": {"datum": {"year": 2026, "month": 10, "date": 24, "hours": 13}, "type": "temporal"}, "y": {"field": "r", "type": "quantitative"},
   "fill": {"condition": {"test": "datum.k == 'rsi'", "value": "#7e57c2"}, "value": "#f7d23e"}}},
{"data": {"values": [{"r": 59.67, "txt": "59.67", "k": "rsi"}, {"r": 45.49, "txt": "45.49", "k": "ma"}]},
 "mark": {"type": "text", "fontSize": 6.5, "align": "left", "baseline": "middle"},
 "encoding": {"x": {"datum": {"year": 2026, "month": 10, "date": 11, "hours": 10}, "type": "temporal"}, "y": {"field": "r", "type": "quantitative"}, "text": {"field": "txt"},
   "color": {"condition": {"test": "datum.k == 'rsi'", "value": "#ffffff"}, "value": "#131722"}}},
{"data": {"values": [{}]},
 "mark": {"type": "text", "text": "RSI (14, close)", "color": "#131722", "fontSize": 6.2, "align": "left", "baseline": "middle"},
 "encoding": {"x": {"datum": {"year": 2025, "month": 4, "date": 16}, "type": "temporal"}, "y": {"datum": 77}}},
{"data": {"values": [{}]},
 "mark": {"type": "text", "text": "59.67", "color": "#7e57c2", "fontSize": 6.2, "align": "left", "baseline": "middle"},
 "encoding": {"x": {"datum": {"year": 2025, "month": 5, "date": 21, "hours": 5}, "type": "temporal"}, "y": {"datum": 77}}},
{"data": {"values": [{}]},
 "mark": {"type": "text", "text": "45.49", "color": "#e8b90c", "fontSize": 6.2, "align": "left", "baseline": "middle"},
 "encoding": {"x": {"datum": {"year": 2025, "month": 6, "date": 6, "hours": 17}, "type": "temporal"}, "y": {"datum": 77}}},
{"data": {"values": [{}]},
 "mark": {"type": "point", "filled": true, "opacity": 1, "size": 256, "color": "#131722", "strokeWidth": 0, "shape": "M -1 -0.6 L -0.25 -0.6 L -0.25 -0.25 L -0.45 -0.25 L -0.45 0.6 L -0.8 0.6 L -0.8 -0.25 L -1 -0.25 Z M 0.45 -0.6 L 1 -0.6 L 0.55 0.6 L 0 0.6 Z M -0.16 -0.42 A 0.18 0.18 0 1 0 0.2 -0.42 A 0.18 0.18 0 1 0 -0.16 -0.42 Z"},
 "encoding": {"x": {"datum": {"year": 2025, "month": 4, "date": 25, "hours": 9}, "type": "temporal"}, "y": {"datum": -17}}},
{"data": {"values": [{}]},
 "mark": {"type": "text", "text": "TradingView", "color": "#131722", "fontSize": 11.5, "fontWeight": "bold", "align": "left", "baseline": "middle"},
 "encoding": {"x": {"datum": {"year": 2025, "month": 5, "date": 3, "hours": 6}, "type": "temporal"}, "y": {"datum": -17}}}
]
}
]
}
